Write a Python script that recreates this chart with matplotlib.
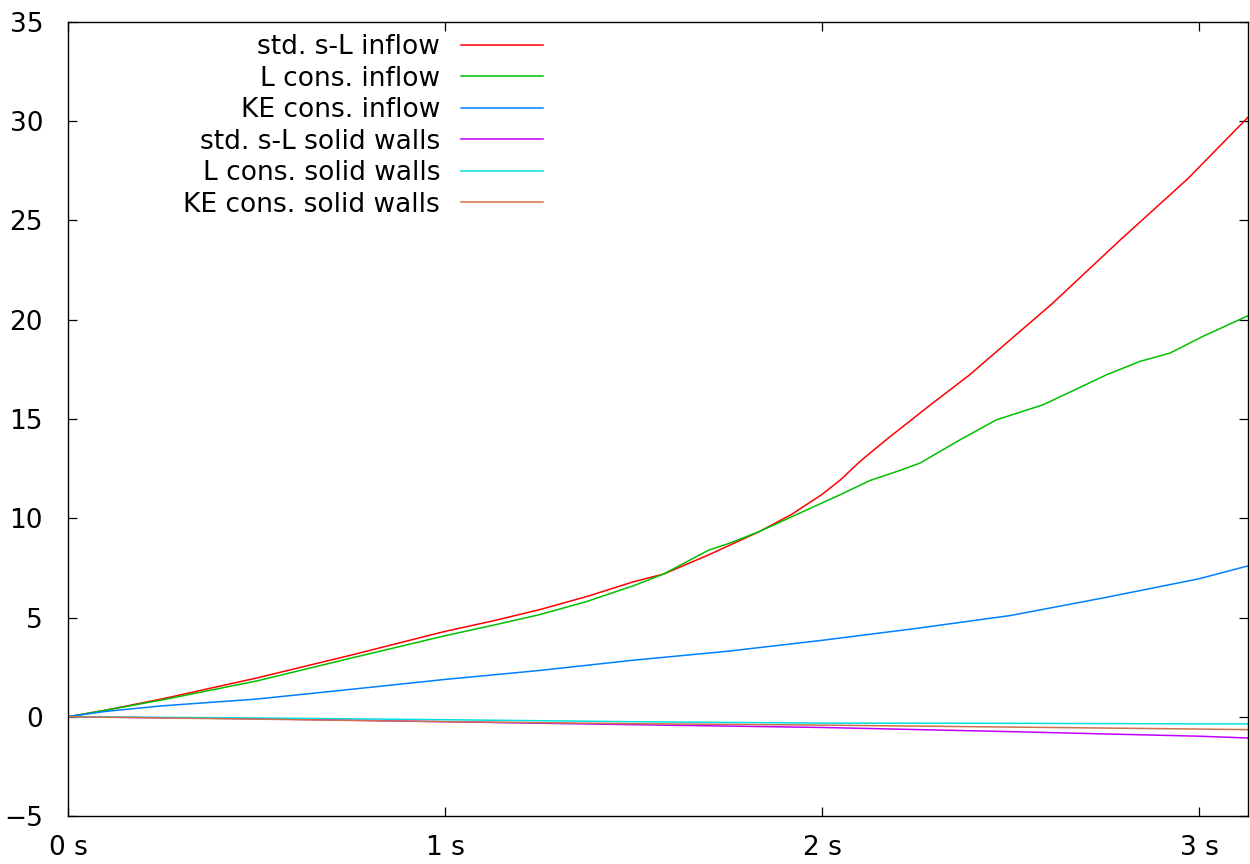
import matplotlib
matplotlib.use("Agg")
import matplotlib.pyplot as plt

# ---- data ----
t_red = [0, 0.1, 0.25, 0.5, 0.75, 1.0, 1.125, 1.25, 1.375, 1.5, 1.58, 1.7, 1.835, 1.92, 2.0, 2.05, 2.1, 2.17,
         2.28, 2.39, 2.5, 2.61, 2.79, 2.97, 3.13]
v_red = [0, 0.33, 0.9, 1.95, 3.1, 4.3, 4.82, 5.39, 6.05, 6.8, 7.19, 8.16, 9.34, 10.2, 11.2, 11.95, 12.85, 13.95,
         15.6, 17.2, 19.0, 20.8, 24.0, 27.1, 30.2]

t_green = [0, 0.1, 0.25, 0.5, 0.75, 1.0, 1.125, 1.25, 1.375, 1.5, 1.58, 1.7, 1.756, 1.835, 2.0, 2.05, 2.127,
           2.207, 2.26, 2.366, 2.463, 2.587, 2.755, 2.843, 2.923, 3.01, 3.13]
v_green = [0, 0.33, 0.85, 1.8, 2.95, 4.08, 4.6, 5.14, 5.8, 6.6, 7.19, 8.4, 8.75, 9.34, 10.77, 11.2, 11.9,
           12.41, 12.78, 13.95, 14.96, 15.72, 17.23, 17.9, 18.32, 19.16, 20.2]

t_blue = [0, 0.1, 0.25, 0.5, 0.75, 1.0, 1.25, 1.5, 1.75, 2.0, 2.25, 2.5, 2.75, 3.0, 3.13]
v_blue = [0, 0.27, 0.55, 0.89, 1.38, 1.88, 2.33, 2.85, 3.3, 3.85, 4.45, 5.1, 6.0, 6.95, 7.6]

t_walls = [0, 0.5, 1.0, 1.5, 2.0, 2.5, 3.0, 3.13]
v_magenta = [0, -0.1, -0.25, -0.4, -0.54, -0.75, -0.98, -1.07]
v_cyan = [0, -0.06, -0.15, -0.25, -0.32, -0.33, -0.36, -0.36]
v_orange = [0, -0.12, -0.25, -0.35, -0.42, -0.52, -0.62, -0.65]

labels = ["std. s-L inflow", "L cons. inflow", "KE cons. inflow",
          "std. s-L solid walls", "L cons. solid walls", "KE cons. solid walls"]
colors = ["#ff0000", "#00c000", "#0080ff", "#c000ff", "#00e0e0", "#d0704a"]

x_ticks = [0, 1, 2, 3]
x_ticklabels = ["0 s", "1 s", "2 s", "3 s"]
y_ticks = [-5, 0, 5, 10, 15, 20, 25, 30, 35]

# ---- figure ----
plt.rcParams['font.family'] = ['DejaVu Sans']
FS = 19
fig = plt.figure(figsize=(12.5, 8.64), dpi=100)
ax = fig.add_axes([68 / 1250, 48 / 864, 1180 / 1250, 794 / 864])

series = [(t_red, v_red), (t_green, v_green), (t_blue, v_blue),
          (t_walls, v_magenta), (t_walls, v_cyan), (t_walls, v_orange)]
for (t, v), lab, c in zip(series, labels, colors):
    ax.plot(t, v, color=c, lw=1.1, label=lab)

ax.set_xlim(0, 3.13)
ax.set_ylim(-5, 35)
ax.set_xticks(x_ticks)
ax.set_xticklabels(x_ticklabels)
ax.set_yticks(y_ticks)
ax.tick_params(axis='both', direction='in', length=6.5, width=0.9, labelsize=FS,
               top=True, right=True, colors='black')
ax.tick_params(axis='y', pad=18)
ax.tick_params(axis='x', pad=14)
for s in ax.spines.values():
    s.set_linewidth(1.0)
    s.set_color('black')

leg = fig.legend(loc='upper right', bbox_to_anchor=(543 / 1250, (864 - 34) / 864),
                 bbox_transform=fig.transFigure, frameon=False,
                 markerfirst=False, fontsize=FS, handlelength=3.1, handletextpad=0.8,
                 labelspacing=0.21, borderaxespad=0.0, borderpad=0.0)
for line in leg.get_lines():
    line.set_linewidth(1.1)

fig.savefig("out.png", dpi=100)
